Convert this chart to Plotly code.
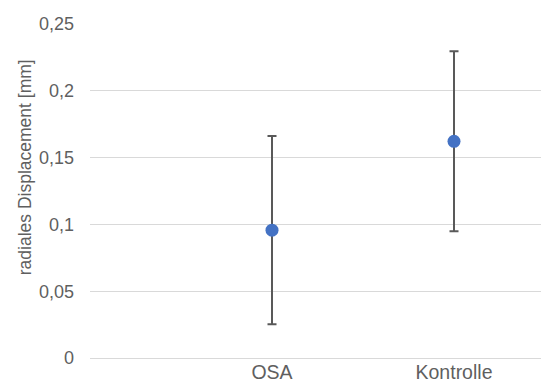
import plotly.graph_objects as go

# Mean radial displacement per group with symmetric error (SD)
groups = ["OSA", "Kontrolle"]
mean_mm = [0.0957, 0.1622]
sd_mm = [0.0704, 0.0674]

y_ticks = [0, 0.05, 0.1, 0.15, 0.2, 0.25]

text_color = "#5f5f5f"
font_family = "Liberation Sans, Arial, sans-serif"

fig = go.Figure()
fig.add_trace(go.Scatter(
    x=groups,
    y=mean_mm,
    mode="markers",
    marker=dict(color="#4472C4", size=13),
    error_y=dict(type="data", array=sd_mm, symmetric=True,
                 color="#595959", thickness=2, width=4.5),
    showlegend=False,
))

fig.update_layout(
    width=541, height=382,
    margin=dict(l=90, r=0, t=24, b=24, autoexpand=False),
    plot_bgcolor="white",
    paper_bgcolor="white",
    separators=",.",
    font=dict(family=font_family, size=18, color=text_color),
    xaxis=dict(
        type="category",
        range=[-1, 1.478],
        automargin=False,
        showgrid=False,
        zeroline=False,
        showline=False,
        ticks="",
        tickfont=dict(size=19.5),
        ticklabelstandoff=0,
    ),
    yaxis=dict(
        range=[0, 0.25],
        tickvals=y_ticks,
        automargin=False,
        showgrid=True,
        gridcolor="#d9d9d9",
        gridwidth=1,
        zeroline=True,
        zerolinecolor="#d9d9d9",
        zerolinewidth=1,
        showline=False,
        ticks="",
        ticklabelstandoff=15,
        tickfont=dict(size=18),
    ),
    annotations=[dict(
        text="radiales Displacement [mm]",
        textangle=-90,
        xref="paper", yref="paper",
        x=-0.145, y=0.57,
        xanchor="center", yanchor="middle",
        showarrow=False,
        font=dict(size=17.5, color=text_color),
    )],
)

fig.write_html("out.html")
